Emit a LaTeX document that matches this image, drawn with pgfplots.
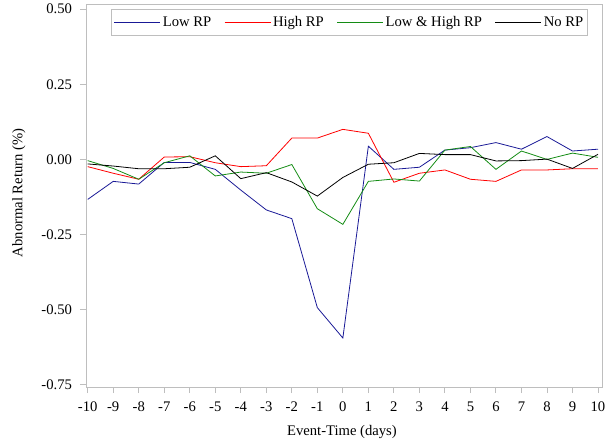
\documentclass[border=0pt]{standalone}
\usepackage{fontspec}
\setmainfont{Liberation Serif}
\usepackage{pgfplots}
\pgfplotsset{compat=1.18}
\definecolor{lowrp}{RGB}{25,25,150}
\definecolor{highrp}{RGB}{255,0,0}
\definecolor{bothrp}{RGB}{20,140,20}
\definecolor{framegray}{RGB}{190,190,190}
\begin{document}
\fontsize{14.7}{17}\selectfont
\begin{tikzpicture}
\begin{axis}[
  name=ax,
  scale only axis, width=516bp, height=383bp,
  xmin=-10.067, xmax=10.157, ymin=-0.757, ymax=0.517,
  xtick={-10,-9,...,10},
  ytick={-0.75,-0.5,-0.25,0,0.25,0.5},
  /pgf/number format/assume math mode=true,
  yticklabel style={/pgf/number format/fixed, /pgf/number format/fixed zerofill, /pgf/number format/precision=2, xshift=-3bp},
  xticklabel style={yshift=-4bp},
  axis line style={framegray, line width=0.9pt},
  tick style={framegray, line width=0.9pt},
  tick align=outside, major tick length=6bp,
  tick pos=left,
  xlabel={Event-Time (days)}, ylabel={Abnormal Return (\%)},
  xlabel style={at={(axis description cs:0.496,-0.1175)}, anchor=center},
  ylabel style={at={(axis description cs:-0.130,0.507)}, anchor=center},
  legend columns=4,
  legend style={at={(axis description cs:0.511,0.987)}, anchor=north, draw=framegray, line width=0.8pt, inner xsep=2.5bp, inner ysep=5bp,
    /tikz/every even column/.append style={column sep=11bp}},
  legend image code/.code={\draw[#1, line width=0.8pt] (0bp,0bp) -- (46bp,0bp);},
  every axis plot/.append style={line width=0.8pt},
]
\addplot[lowrp] coordinates {(-10,-0.133) (-9,-0.073) (-8,-0.082) (-7,-0.010) (-6,-0.010) (-5,-0.033) (-4,-0.102) (-3,-0.168) (-2,-0.197) (-1,-0.493) (0,-0.594) (1,0.044) (2,-0.033) (3,-0.026) (4,0.031) (5,0.039) (6,0.056) (7,0.034) (8,0.076) (9,0.028) (10,0.034)};
\addlegendentry{Low RP}
\addplot[highrp] coordinates {(-10,-0.024) (-9,-0.046) (-8,-0.066) (-7,0.008) (-6,0.009) (-5,-0.011) (-4,-0.024) (-3,-0.021) (-2,0.071) (-1,0.071) (0,0.100) (1,0.087) (2,-0.076) (3,-0.046) (4,-0.035) (5,-0.066) (6,-0.073) (7,-0.035) (8,-0.035) (9,-0.031) (10,-0.031)};
\addlegendentry{High RP}
\addplot[bothrp] coordinates {(-10,-0.004) (-9,-0.030) (-8,-0.066) (-7,-0.011) (-6,0.012) (-5,-0.055) (-4,-0.042) (-3,-0.046) (-2,-0.017) (-1,-0.164) (0,-0.216) (1,-0.073) (2,-0.065) (3,-0.072) (4,0.031) (5,0.043) (6,-0.033) (7,0.028) (8,0.000) (9,0.021) (10,0.007)};
\addlegendentry{Low \& High RP}
\addplot[black] coordinates {(-10,-0.015) (-9,-0.022) (-8,-0.031) (-7,-0.031) (-6,-0.026) (-5,0.012) (-4,-0.064) (-3,-0.044) (-2,-0.075) (-1,-0.122) (0,-0.060) (1,-0.016) (2,-0.011) (3,0.020) (4,0.016) (5,0.016) (6,-0.005) (7,-0.004) (8,0.001) (9,-0.030) (10,0.017)};
\addlegendentry{No RP}
\end{axis}
\pgfresetboundingbox
\path[use as bounding box] ([shift={(-86bp,-61bp)}]ax.south west) rectangle ([shift={(5bp,4bp)}]ax.north east);
\end{tikzpicture}
\end{document}
